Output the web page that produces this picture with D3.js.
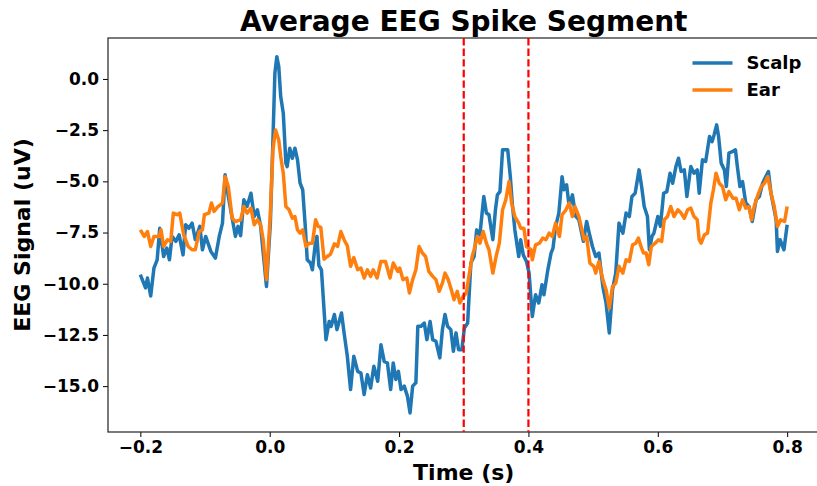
<!DOCTYPE html>
<html>
<head>
<meta charset="utf-8">
<script src="https://cdn.jsdelivr.net/npm/d3@7"></script>
<style>
  body { margin: 0; background: #fff; }
  text { font-family: "DejaVu Sans", sans-serif; font-weight: bold; }
</style>
</head>
<body>
<div id="eeg-chart"></div>
<script>
// Values
var scalpTime = [-0.2, -0.192, -0.189, -0.184, -0.179, -0.174, -0.170, -0.164, -0.159, -0.155, -0.151, -0.145, -0.140, -0.134, -0.130, -0.125, -0.120, -0.115, -0.108, -0.104, -0.099, -0.091, -0.084, -0.078, -0.073, -0.069, -0.064, -0.058, -0.053, -0.049, -0.045, -0.040, -0.035, -0.029, -0.024, -0.019, -0.014, -0.010, -0.005, 0.001, 0.005, 0.008, 0.011, 0.014, 0.017, 0.021, 0.025, 0.027, 0.031, 0.035, 0.039, 0.043, 0.047, 0.051, 0.055, 0.058, 0.063, 0.066, 0.070, 0.073, 0.076, 0.080, 0.087, 0.092, 0.095, 0.100, 0.104, 0.111, 0.115, 0.120, 0.125, 0.130, 0.136, 0.141, 0.146, 0.151, 0.156, 0.161, 0.167, 0.172, 0.177, 0.182, 0.187, 0.191, 0.195, 0.199, 0.203, 0.208, 0.213, 0.217, 0.221, 0.226, 0.229, 0.234, 0.239, 0.243, 0.248, 0.252, 0.257, 0.263, 0.267, 0.271, 0.275, 0.280, 0.284, 0.288, 0.292, 0.297, 0.301, 0.306, 0.311, 0.316, 0.320, 0.325, 0.331, 0.335, 0.339, 0.345, 0.349, 0.352, 0.356, 0.360, 0.364, 0.368, 0.372, 0.375, 0.379, 0.385, 0.388, 0.392, 0.397, 0.401, 0.406, 0.411, 0.416, 0.421, 0.424, 0.430, 0.435, 0.438, 0.442, 0.447, 0.452, 0.455, 0.459, 0.463, 0.468, 0.473, 0.478, 0.485, 0.490, 0.494, 0.499, 0.504, 0.509, 0.515, 0.520, 0.525, 0.530, 0.535, 0.540, 0.546, 0.551, 0.556, 0.560, 0.565, 0.571, 0.575, 0.579, 0.584, 0.587, 0.591, 0.594, 0.600, 0.604, 0.609, 0.614, 0.619, 0.623, 0.628, 0.632, 0.636, 0.641, 0.645, 0.651, 0.656, 0.661, 0.664, 0.669, 0.674, 0.680, 0.684, 0.687, 0.691, 0.694, 0.698, 0.703, 0.706, 0.710, 0.716, 0.720, 0.723, 0.727, 0.731, 0.736, 0.741, 0.746, 0.752, 0.757, 0.762, 0.767, 0.771, 0.775, 0.779, 0.783, 0.785, 0.789, 0.795, 0.8];
var scalpValues = [-9.56, -10.2, -9.72, -10.6, -9.24, -8.83, -7.29, -8.67, -8.26, -8.83, -7.69, -7.93, -7.61, -8.59, -7.12, -7.29, -7.04, -7.85, -7.2, -8.34, -7.69, -8.42, -8.75, -7.69, -7.04, -4.68, -5.74, -6.8, -7.69, -7.2, -7.65, -5.9, -6.23, -5.58, -6.72, -6.39, -7.2, -8.5, -10.13, -7.04, -2.98, 0.28, 1.09, 0.6, -0.86, -1.67, -4.11, -4.28, -3.38, -3.87, -3.38, -3.95, -5.09, -5.41, -7.2, -8.83, -8.99, -9.32, -8.18, -7.69, -9.1, -9.32, -12.73, -11.84, -12.08, -11.5, -12.24, -11.43, -12.4, -13.54, -15.17, -13.54, -14.28, -14.36, -15.41, -14.44, -15.09, -14.03, -14.76, -12.98, -13.79, -13.87, -15.17, -13.87, -14.68, -14.28, -15.17, -15.0, -15.5, -16.31, -15.0, -14.84, -12.08, -12.08, -11.92, -12.73, -11.84, -12.73, -12.81, -13.62, -12.24, -11.5, -12.08, -12.24, -13.3, -12.4, -13.22, -13.22, -12.16, -11.92, -8.99, -8.67, -7.37, -7.61, -5.74, -6.55, -6.63, -7.85, -6.39, -5.66, -5.5, -3.46, -3.46, -3.46, -4.77, -6.06, -7.37, -8.67, -7.85, -8.59, -8.91, -9.48, -11.6, -10.54, -10.94, -10.05, -10.54, -9.32, -8.5, -8.26, -7.2, -6.55, -4.77, -5.41, -5.17, -6.23, -5.66, -6.7, -6.88, -7.93, -6.96, -7.53, -8.18, -8.67, -8.5, -10.13, -10.94, -12.4, -10.29, -9.48, -7.04, -7.53, -6.55, -6.72, -5.74, -5.58, -4.44, -5.25, -6.23, -6.72, -8.34, -7.69, -7.53, -6.72, -7.2, -5.58, -5.5, -4.6, -5.09, -4.28, -3.87, -4.52, -4.44, -5.74, -4.28, -4.6, -4.44, -5.58, -3.95, -4.03, -2.81, -3.06, -2.73, -2.24, -2.81, -4.11, -4.44, -5.25, -3.62, -3.54, -3.46, -4.28, -5.25, -5.01, -6.06, -6.23, -6.96, -5.9, -5.74, -5.09, -4.77, -4.52, -5.58, -6.23, -6.88, -8.42, -7.85, -8.34, -7.12];

var earTime = [-0.2, -0.194, -0.189, -0.184, -0.179, -0.171, -0.168, -0.164, -0.158, -0.153, -0.149, -0.143, -0.139, -0.133, -0.126, -0.120, -0.115, -0.109, -0.104, -0.101, -0.094, -0.090, -0.086, -0.080, -0.073, -0.069, -0.064, -0.058, -0.053, -0.045, -0.040, -0.035, -0.029, -0.024, -0.019, -0.014, -0.010, -0.005, 0.001, 0.005, 0.009, 0.014, 0.017, 0.021, 0.025, 0.030, 0.035, 0.039, 0.043, 0.047, 0.051, 0.056, 0.061, 0.066, 0.071, 0.075, 0.079, 0.084, 0.089, 0.094, 0.100, 0.105, 0.110, 0.115, 0.120, 0.125, 0.130, 0.136, 0.141, 0.146, 0.151, 0.156, 0.160, 0.166, 0.172, 0.179, 0.186, 0.191, 0.198, 0.201, 0.206, 0.212, 0.216, 0.221, 0.226, 0.231, 0.236, 0.241, 0.246, 0.252, 0.257, 0.262, 0.267, 0.271, 0.276, 0.280, 0.285, 0.290, 0.294, 0.299, 0.304, 0.308, 0.313, 0.316, 0.321, 0.325, 0.330, 0.335, 0.339, 0.345, 0.350, 0.355, 0.360, 0.365, 0.370, 0.374, 0.379, 0.385, 0.388, 0.393, 0.397, 0.404, 0.406, 0.411, 0.417, 0.422, 0.427, 0.432, 0.437, 0.442, 0.448, 0.452, 0.458, 0.463, 0.468, 0.472, 0.478, 0.486, 0.490, 0.495, 0.501, 0.504, 0.509, 0.515, 0.520, 0.525, 0.530, 0.535, 0.540, 0.546, 0.551, 0.556, 0.561, 0.566, 0.570, 0.574, 0.578, 0.582, 0.586, 0.590, 0.596, 0.601, 0.606, 0.610, 0.615, 0.620, 0.625, 0.631, 0.636, 0.641, 0.646, 0.651, 0.656, 0.661, 0.664, 0.667, 0.672, 0.677, 0.682, 0.686, 0.690, 0.695, 0.700, 0.705, 0.710, 0.716, 0.721, 0.726, 0.731, 0.736, 0.741, 0.745, 0.749, 0.754, 0.760, 0.765, 0.770, 0.775, 0.780, 0.785, 0.790, 0.796, 0.8];
var earValues = [-7.37, -7.69, -7.45, -8.18, -7.69, -7.69, -7.37, -8.18, -7.85, -7.93, -6.55, -6.63, -6.55, -7.61, -8.18, -8.34, -8.34, -7.45, -7.37, -6.63, -6.55, -6.06, -6.47, -6.23, -6.06, -4.77, -5.25, -6.8, -6.96, -6.88, -6.23, -6.55, -6.31, -7.12, -6.88, -7.12, -7.85, -9.8, -6.55, -3.46, -2.49, -2.98, -3.79, -4.6, -6.23, -6.39, -6.8, -6.72, -7.37, -7.53, -7.37, -8.18, -8.02, -8.02, -6.88, -7.2, -7.25, -8.8, -8.67, -8.55, -8.05, -8.18, -7.45, -7.85, -8.15, -9.15, -8.72, -9.32, -9.23, -9.72, -9.32, -9.64, -9.32, -9.72, -8.91, -8.91, -9.72, -8.99, -9.4, -9.23, -9.8, -9.72, -10.45, -9.8, -9.32, -8.18, -8.5, -8.67, -9.4, -9.64, -9.8, -10.37, -9.97, -9.48, -9.8, -10.21, -10.78, -10.37, -10.94, -10.62, -10.45, -9.64, -8.67, -8.34, -7.69, -8.02, -7.45, -8.02, -8.34, -9.48, -8.67, -8.02, -6.39, -5.9, -5.01, -6.06, -6.72, -7.04, -7.29, -7.29, -8.18, -8.34, -8.83, -8.1, -8.02, -7.77, -7.85, -7.53, -7.69, -7.04, -7.69, -6.63, -6.39, -6.06, -6.72, -6.23, -6.72, -7.85, -7.69, -8.99, -9.15, -9.48, -8.91, -9.8, -10.29, -11.19, -10.13, -9.97, -9.15, -9.48, -8.83, -8.91, -8.1, -8.02, -7.77, -8.18, -8.5, -8.5, -9.07, -8.18, -8.02, -7.85, -7.93, -6.88, -6.72, -6.23, -6.72, -6.39, -6.55, -6.8, -6.39, -6.31, -6.72, -6.88, -7.85, -8.02, -7.61, -7.53, -6.06, -5.41, -4.6, -5.09, -5.25, -5.9, -5.5, -5.82, -5.82, -6.39, -5.9, -6.31, -6.23, -6.88, -6.23, -5.74, -5.25, -5.09, -4.77, -5.58, -6.23, -7.2, -6.88, -6.96, -6.23];

var xTicks = [-0.2, 0.0, 0.2, 0.4, 0.6, 0.8];
var yTicks = [0, -2.5, -5, -7.5, -10, -12.5, -15];
var markerTimes = [0.3, 0.4];
var seriesNames = ["Scalp", "Ear"];
var seriesColors = ["#1f77b4", "#ff7f0e"];

// Set the margins and dimensions of the plot
var margin = { top: 38, right: -2.5, bottom: 54, left: 108 };
var width = 817 - margin.left - margin.right;
var height = 486 - margin.top - margin.bottom;

const svg = d3
  .select("#eeg-chart")
  .append("svg")
  .attr("width", 817)
  .attr("height", 486)
  .append("g")
  .attr("transform", "translate(" + margin.left + "," + margin.top + ")");

// Scales (matplotlib style 5% padding)
var xScale = d3.scaleLinear().domain([-0.25, 0.85]).range([0, width]);
var yScale = d3.scaleLinear().domain([-17.24, 2.0]).range([height, 0]);

var minusFmt = function (f) {
  return function (d) {
    return f(d).replace("-", "\u2212");
  };
};

// Axes
var xAxis = svg
  .append("g")
  .attr("transform", "translate(0," + height + ")")
  .call(
    d3.axisBottom(xScale).tickValues(xTicks).tickSize(5).tickPadding(4)
      .tickFormat(minusFmt(d3.format(".1f")))
  );
var yAxis = svg
  .append("g")
  .call(
    d3.axisLeft(yScale).tickValues(yTicks).tickSize(5).tickPadding(4)
      .tickFormat(minusFmt(d3.format(".1f")))
  );
[xAxis, yAxis].forEach(function (ax) {
  ax.select(".domain").remove();
  ax.selectAll("line").attr("stroke", "#000").attr("stroke-width", 1);
  ax.selectAll("text")
    .attr("fill", "#000")
    .style("font-size", "17px")
    .style("font-family", "DejaVu Sans, sans-serif")
    .style("font-weight", "bold");
});

// Frame
svg
  .append("rect")
  .attr("x", 0)
  .attr("y", 0)
  .attr("width", width)
  .attr("height", height)
  .attr("fill", "none")
  .attr("stroke", "#222")
  .attr("stroke-width", 1.2);

// Lines
var line = d3
  .line()
  .x(function (d) { return xScale(d[0]); })
  .y(function (d) { return yScale(d[1]); });

var series = [
  d3.zip(scalpTime, scalpValues),
  d3.zip(earTime, earValues)
];

series.forEach(function (s, i) {
  svg
    .append("path")
    .datum(s)
    .attr("fill", "none")
    .attr("stroke", seriesColors[i])
    .attr("stroke-width", 3.5)
    .attr("stroke-linejoin", "round")
    .attr("stroke-linecap", "butt")
    .attr("d", line);
});

// Red dashed markers
svg
  .selectAll(".marker")
  .data(markerTimes)
  .enter()
  .append("line")
  .attr("class", "marker")
  .attr("x1", function (d) { return xScale(d); })
  .attr("x2", function (d) { return xScale(d); })
  .attr("y1", 0)
  .attr("y2", height)
  .attr("stroke", "#ff0000")
  .attr("stroke-width", 2.2)
  .attr("stroke-dasharray", "7.4,3.2");

// Legend
var legend = svg
  .append("g")
  .attr("transform", "translate(" + (width - 127) + ",25)");
seriesNames.forEach(function (name, i) {
  legend
    .append("line")
    .attr("x1", 0)
    .attr("x2", 40)
    .attr("y1", i * 27)
    .attr("y2", i * 27)
    .attr("stroke", seriesColors[i])
    .attr("stroke-width", 3.5);
  legend
    .append("text")
    .attr("x", 54)
    .attr("y", i * 27)
    .attr("dy", "0.35em")
    .style("font-size", "18px")
    .text(name);
});

// Title and axis labels
svg
  .append("text")
  .attr("x", width / 2)
  .attr("y", -7)
  .attr("text-anchor", "middle")
  .style("font-size", "28px")
  .text("Average EEG Spike Segment");

svg
  .append("text")
  .attr("x", width / 2)
  .attr("y", height + 48)
  .attr("text-anchor", "middle")
  .style("font-size", "22px")
  .text("Time (s)");

svg
  .append("text")
  .attr("transform", "rotate(-90)")
  .attr("x", -height / 2)
  .attr("y", -78)
  .attr("text-anchor", "middle")
  .style("font-size", "22px")
  .text("EEG Signal (uV)");
</script>
</body>
</html>
